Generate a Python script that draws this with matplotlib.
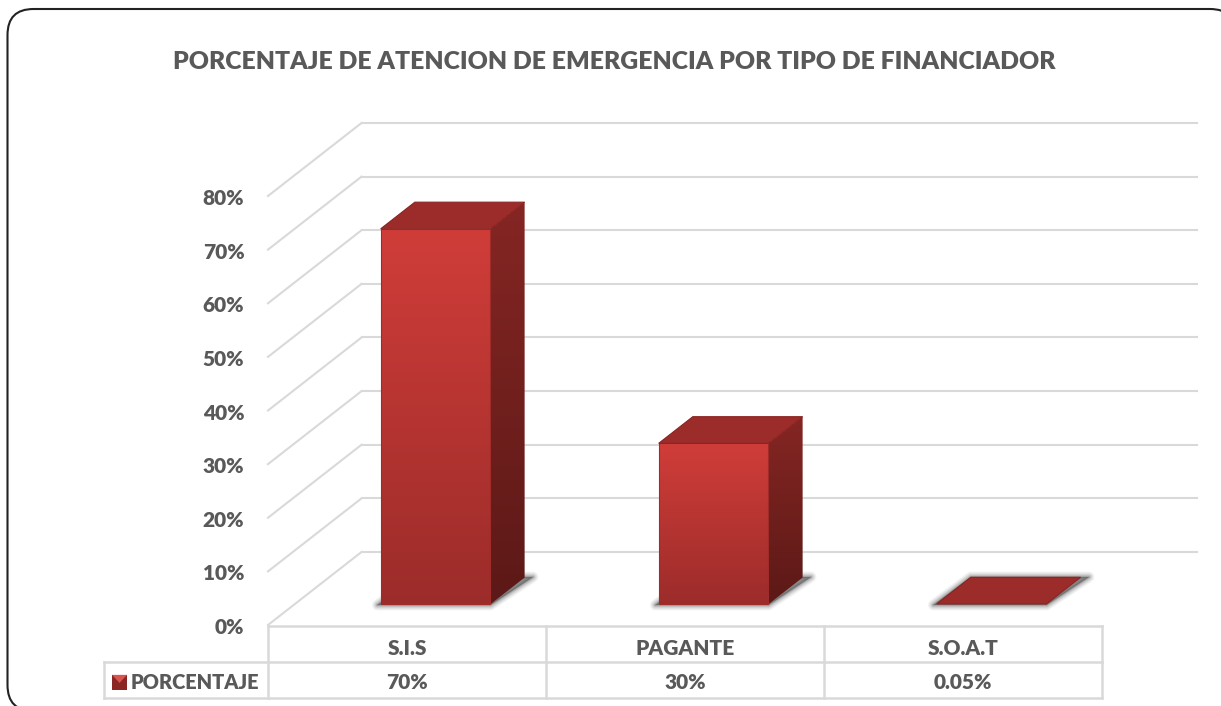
"""Porcentaje de atencion de emergencia por tipo de financiador (3D-look column chart)."""

import matplotlib

matplotlib.use("Agg")
import matplotlib.pyplot as plt
import numpy as np
from matplotlib.colors import LinearSegmentedColormap
from matplotlib.patches import FancyBboxPatch, Polygon
from matplotlib.transforms import ScaledTranslation

TITLE = "PORCENTAJE DE ATENCION DE EMERGENCIA POR TIPO DE FINANCIADOR"
SERIES_NAME = "PORCENTAJE"
CATEGORIES = ["S.I.S", "PAGANTE", "S.O.A.T"]
VALUES = [70, 30, 0.05]
VALUE_LABELS = ["70%", "30%", "0.05%"]
Y_TICKS = [0, 10, 20, 30, 40, 50, 60, 70, 80]

FIG_W, FIG_H = 1221, 706
TEXT_COLOR = "#595959"
GRID_COLOR = "#d9d9d9"
WEIGHT = "heavy"

plt.rcParams["font.family"] = ["Lato", "DejaVu Sans"]

# oblique projection: depth 1 is the back wall, given in data units
DEPTH_X = 93.5 / 278
DEPTH_Y = 73 / 5.3625
BAR_WIDTH = 0.395
BAR_DEPTH_START = 0.285
BAR_DEPTH_END = 0.65
BAR_SHIFT = 0.007


def project(x, y, depth):
    return (x + depth * DEPTH_X, y + depth * DEPTH_Y)


def gradient_poly(ax, points, top_color, bottom_color, zorder):
    """Fill a polygon with a vertical gradient, clipped through imshow."""
    xs = [p[0] for p in points]
    ys = [p[1] for p in points]
    cmap = LinearSegmentedColormap.from_list("g", [bottom_color, top_color])
    grad = np.linspace(0, 1, 256).reshape(-1, 1)
    im = ax.imshow(
        grad,
        extent=(min(xs), max(xs), min(ys), max(ys)),
        origin="lower",
        cmap=cmap,
        aspect="auto",
        zorder=zorder,
    )
    clip = Polygon(points, closed=True, transform=ax.transData, fc="none", ec="none")
    ax.add_patch(clip)
    im.set_clip_path(clip)


def draw_bar(ax, center, value):
    left = center - BAR_WIDTH / 2 + BAR_SHIFT
    right = center + BAR_WIDTH / 2 + BAR_SHIFT
    d0, d1 = BAR_DEPTH_START, BAR_DEPTH_END

    # soft shadow on the floor, stretched sideways like the original
    x0, y0 = project(left, 0, d0)
    x1, _ = project(right, 0, d0)
    x2, y2 = project(right, 0, d1)
    x3, _ = project(left, 0, d1)
    shadow = [(x0 - 0.012, y0 - 0.15), (x1, y0 - 0.15), (x2 + 0.03, y2 + 0.1), (x3, y2 + 0.1)]
    for lw, alpha in [(8, 0.05), (6.5, 0.07), (5, 0.09), (3.5, 0.13), (2, 0.18), (0.8, 0.22)]:
        ax.add_patch(
            Polygon(shadow, closed=True, fc="#4d4d4d", ec="#4d4d4d", lw=lw, alpha=alpha,
                    joinstyle="round", zorder=2, clip_on=False)
        )

    top_face = [project(left, value, d0), project(right, value, d0), project(right, value, d1), project(left, value, d1)]
    if value >= 1:
        side = [project(right, 0, d0), project(right, 0, d1), project(right, value, d1), project(right, value, d0)]
        gradient_poly(ax, side, "#852623", "#5c1917", 3)
        front = [project(left, 0, d0), project(right, 0, d0), project(right, value, d0), project(left, value, d0)]
        gradient_poly(ax, front, "#d03d39", "#9c2c2a", 3)
        ax.add_patch(Polygon(front, closed=True, fc="none", ec="#a02c2a", lw=0.8, zorder=4))
    ax.add_patch(Polygon(top_face, closed=True, fc="#9b2c2a", ec="#8a2422", lw=0.8, zorder=4, clip_on=False))


fig = plt.figure(figsize=(FIG_W / 100, FIG_H / 100), dpi=100)
fig.patch.set_facecolor("white")

# outer rounded frame runs past the right and bottom edge of the picture
frame = FancyBboxPatch(
    (7.5 + 26, FIG_H - 711 + 26),
    1236 - 7.5 - 52,
    711 - 9 - 52,
    boxstyle="round,pad=26,rounding_size=26",
    transform=None,
    fc="white",
    ec="#222222",
    lw=1.5,
    zorder=0,
)
fig.add_artist(frame)

ax = fig.add_axes([268 / FIG_W, (FIG_H - 625) / FIG_H, 834 / FIG_W, 429 / FIG_H])
ax.patch.set_alpha(0)
ax.set_xlim(0, 3)
ax.set_ylim(0, 80)
ax.set_autoscale_on(False)
for spine in ax.spines.values():
    spine.set_visible(False)
ax.set_xticks([])
ax.set_yticks(Y_TICKS)
ax.set_yticklabels([f"{t}%" for t in Y_TICKS], fontsize=15, color=TEXT_COLOR, fontweight=WEIGHT)
ax.tick_params(axis="y", length=0, pad=17)
for label in ax.get_yticklabels():
    label.set_transform(label.get_transform() + ScaledTranslation(0, -1 / 100, fig.dpi_scale_trans))

# wall and floor lines
right_end = 3 + (1197 - 268 - 834 - 93.5) / 278
for t in Y_TICKS:
    back_left = project(0, t, 1)
    ax.plot([0, back_left[0]], [t, back_left[1]], color=GRID_COLOR, lw=1.5, zorder=1, clip_on=False)
    ax.plot([back_left[0], right_end + DEPTH_X], [back_left[1], back_left[1]], color=GRID_COLOR, lw=1.5, zorder=1, clip_on=False)

for i, value in enumerate(VALUES):
    draw_bar(ax, i + 0.5, value)

# data table under the plot
ROW_TOP, ROW_MID, ROW_BOTTOM = -0.15, -6.9, -13.7
LEGEND_LEFT = -0.59
table_kw = dict(color=GRID_COLOR, lw=1.8, clip_on=False, zorder=1, solid_capstyle="projecting")
ax.plot([0, 3], [ROW_TOP, ROW_TOP], **table_kw)
ax.plot([LEGEND_LEFT, 3], [ROW_MID, ROW_MID], **table_kw)
ax.plot([LEGEND_LEFT, 3], [ROW_BOTTOM, ROW_BOTTOM], **table_kw)
ax.plot([LEGEND_LEFT, LEGEND_LEFT], [ROW_MID, ROW_BOTTOM], **table_kw)
for x in range(4):
    ax.plot([x, x], [ROW_TOP, ROW_BOTTOM], **table_kw)

for i, (cat, label) in enumerate(zip(CATEGORIES, VALUE_LABELS)):
    ax.text(i + 0.5, (ROW_TOP + ROW_MID) / 2 - 0.95, cat, ha="center", va="center",
            fontsize=15, color=TEXT_COLOR, fontweight=WEIGHT, clip_on=False)
    ax.text(i + 0.5, (ROW_MID + ROW_BOTTOM) / 2 - 0.45, label, ha="center", va="center",
            fontsize=15, color=TEXT_COLOR, fontweight=WEIGHT, clip_on=False)

# legend key: small bevelled square
key_x0, key_x1 = -0.561, -0.507
key_y0, key_y1 = -12.1, -9.3
key_xm = (key_x0 + key_x1) / 2
ax.add_patch(Polygon([(key_x0, key_y0), (key_x1, key_y0), (key_x1, key_y1), (key_x0, key_y1)], closed=True,
                     fc="#8a2624", ec="none", clip_on=False, zorder=3))
ax.add_patch(Polygon([(key_x0, key_y1), (key_x1, key_y1), (key_xm, key_y1 - 1.5)], closed=True,
                     fc="#d9534f", ec="none", clip_on=False, zorder=4))
ax.text(-0.493, (ROW_MID + ROW_BOTTOM) / 2 - 0.45, SERIES_NAME, ha="left", va="center",
        fontsize=14.4, color=TEXT_COLOR, fontweight=WEIGHT, clip_on=False)

fig.text(614.5 / FIG_W, 1 - 62 / FIG_H, TITLE, ha="center", va="center",
         fontsize=17.8, color=TEXT_COLOR, fontweight=WEIGHT)

fig.savefig("out.png", dpi=100)
plt.close(fig)
